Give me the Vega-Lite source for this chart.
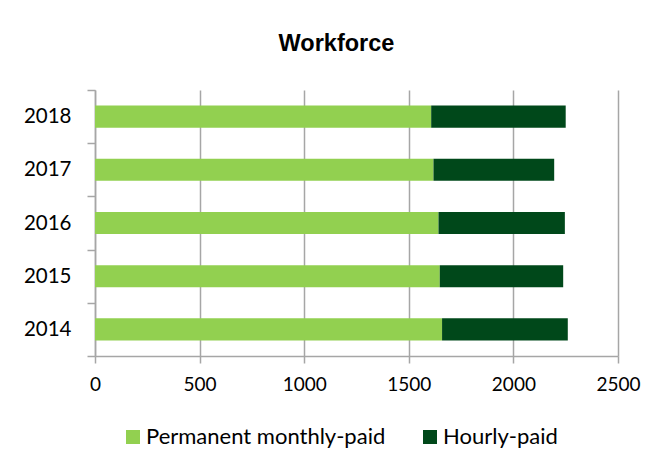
{
  "$schema": "https://vega.github.io/schema/vega-lite/v6.json",
  "width": 523,
  "height": 266,
  "autosize": {"type": "none"},
  "padding": {"left": 95, "top": 90, "right": 47, "bottom": 112},
  "background": "white",
  "config": {"view": {"stroke": null}},
  "title": {
    "text": "Workforce",
    "font": "Liberation Sans",
    "fontSize": 23.5,
    "fontWeight": "bold",
    "color": "#000000",
    "anchor": "middle",
    "dx": -20,
    "offset": 6,
    "baseline": "alphabetic"
  },
  "data": {
    "values": [
      {"year": "2018", "type": "Permanent monthly-paid", "count": 1607},
      {"year": "2018", "type": "Hourly-paid", "count": 643},
      {"year": "2017", "type": "Permanent monthly-paid", "count": 1618},
      {"year": "2017", "type": "Hourly-paid", "count": 577},
      {"year": "2016", "type": "Permanent monthly-paid", "count": 1642},
      {"year": "2016", "type": "Hourly-paid", "count": 604},
      {"year": "2015", "type": "Permanent monthly-paid", "count": 1648},
      {"year": "2015", "type": "Hourly-paid", "count": 590},
      {"year": "2014", "type": "Permanent monthly-paid", "count": 1659},
      {"year": "2014", "type": "Hourly-paid", "count": 601}
    ]
  },
  "mark": {"type": "bar", "height": {"band": 0.415}},
  "encoding": {
    "y": {
      "field": "year",
      "type": "ordinal",
      "sort": "descending",
      "scale": {"paddingInner": 0, "paddingOuter": 0},
      "axis": {
        "title": null,
        "tickBand": "extent",
        "domainColor": "#a6a6a6",
        "domainWidth": 1.5,
        "tickColor": "#a6a6a6",
        "tickWidth": 1.5,
        "tickSize": 8,
        "labelFont": "Lato",
        "labelFontSize": 20.5,
        "labelColor": "#000000",
        "labelPadding": 16,
        "grid": false
      }
    },
    "x": {
      "field": "count",
      "type": "quantitative",
      "stack": "zero",
      "scale": {"domain": [0, 2500]},
      "axis": {
        "title": null,
        "values": [0, 500, 1000, 1500, 2000, 2500],
        "format": "d",
        "grid": true,
        "gridColor": "#a6a6a6",
        "gridWidth": 1.5,
        "domainColor": "#a6a6a6",
        "domainWidth": 1.5,
        "tickColor": "#a6a6a6",
        "tickWidth": 1.5,
        "tickSize": 7,
        "labelFont": "Lato",
        "labelFontSize": 19,
        "labelColor": "#000000",
        "labelPadding": 12,
        "labelFlush": false
      }
    },
    "color": {
      "field": "type",
      "type": "nominal",
      "scale": {
        "domain": ["Permanent monthly-paid", "Hourly-paid"],
        "range": ["#92D050", "#00481A"]
      },
      "legend": {
        "title": null,
        "orient": "none",
        "direction": "horizontal",
        "legendX": 27,
        "legendY": 336,
        "symbolType": "square",
        "symbolSize": 196,
        "symbolStrokeWidth": 0,
        "symbolOpacity": 1,
        "labelFont": "Lato",
        "labelFontSize": 22,
        "labelColor": "#000000",
        "labelOffset": 2,
        "columnPadding": 33,
        "labelLimit": 400
      }
    },
    "order": {"field": "type", "sort": "descending"}
  }
}
